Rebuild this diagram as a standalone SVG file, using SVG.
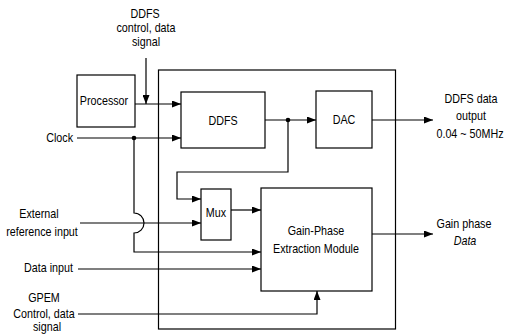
<svg xmlns="http://www.w3.org/2000/svg" width="511" height="334" viewBox="0 0 511 334">
<defs>
<style>
.box{fill:#fff;stroke:#000;stroke-width:1.2}
.ln{fill:none;stroke:#000;stroke-width:1.2}
.arr{fill:none;stroke:#000;stroke-width:1.2;marker-end:url(#ah)}
text{font-family:"Liberation Sans",Arial,sans-serif;font-size:12.5px;fill:#000}
.c{text-anchor:middle}
.r{text-anchor:end}
.dot{fill:#000}
</style>
<marker id="ah" markerWidth="9" markerHeight="7" refX="9" refY="3.5" orient="auto" markerUnits="userSpaceOnUse">
<path d="M0,0 L9,3.5 L0,7 z" fill="#000"/>
</marker>
</defs>
<rect width="511" height="334" fill="#fff"/>
<g id="system-boundary"><rect class="box" x="158.5" y="70" width="237" height="259" fill="none"/></g>
<g id="processor"><rect class="box" x="77" y="75" width="58" height="52"/><text class="c" transform="translate(104,105) scale(0.86,1)">Processor</text></g>
<g id="ddfs"><rect class="box" x="181" y="92" width="84" height="56"/><text class="c" transform="translate(223,125) scale(0.86,1)">DDFS</text></g>
<g id="dac"><rect class="box" x="316" y="91" width="56" height="57"/><text class="c" transform="translate(344,124) scale(0.86,1)">DAC</text></g>
<g id="mux"><rect class="box" x="201" y="189" width="30" height="51"/><text class="c" transform="translate(216,217) scale(0.86,1)">Mux</text></g>
<g id="gpem"><rect class="box" x="261" y="188" width="111" height="103"/><text class="c" transform="translate(316,235) scale(0.86,1)">Gain-Phase</text><text class="c" transform="translate(316,253) scale(0.86,1)">Extraction Module</text></g>
<g id="connectors">
<path class="arr" d="M146,58 V104"/>
<path class="arr" d="M135,104 H181"/>
<path class="arr" d="M77,138 H181"/>
<circle class="dot" cx="134" cy="138" r="2.3"/>
<path class="arr" d="M265,120 H316"/>
<circle class="dot" cx="288" cy="120" r="2.3"/>
<path class="arr" d="M372,120 H433"/>
<path class="arr" d="M288,120 V172 H177 V199 H201"/>
<path class="arr" d="M80,223 H201"/>
<path class="arr" d="M134,138 V213 A10,10 0 0 1 134,233 V252 H261"/>
<path class="arr" d="M231,210 H261"/>
<path class="arr" d="M78,269 H261"/>
<path class="arr" d="M78,314 H317 V291"/>
<path class="arr" d="M372,234 H433"/>
</g>
<g id="labels">
<text class="c" transform="translate(145,18) scale(0.86,1)">DDFS</text>
<text class="c" transform="translate(146,32) scale(0.86,1)">control, data</text>
<text class="c" transform="translate(146,46) scale(0.86,1)">signal</text>
<text class="r" transform="translate(73,142) scale(0.86,1)">Clock</text>
<text class="c" transform="translate(39,218) scale(0.86,1)">External</text>
<text class="c" transform="translate(42,236) scale(0.86,1)">reference input</text>
<text class="r" transform="translate(73,272) scale(0.86,1)">Data input</text>
<text class="c" transform="translate(44,302) scale(0.86,1)">GPEM</text>
<text class="c" transform="translate(44,318) scale(0.86,1)">Control, data</text>
<text class="c" transform="translate(47,331) scale(0.86,1)">signal</text>
<text class="c" transform="translate(471,103) scale(0.86,1)">DDFS data</text>
<text class="c" transform="translate(471,120) scale(0.86,1)">output</text>
<text class="c" transform="translate(470,138) scale(0.86,1)">0.04 ~ 50MHz</text>
<text class="c" transform="translate(464,228) scale(0.86,1)">Gain phase</text>
<text class="c" font-style="italic" transform="translate(465,245) scale(0.86,1)">Data</text>
</g>
</svg>
